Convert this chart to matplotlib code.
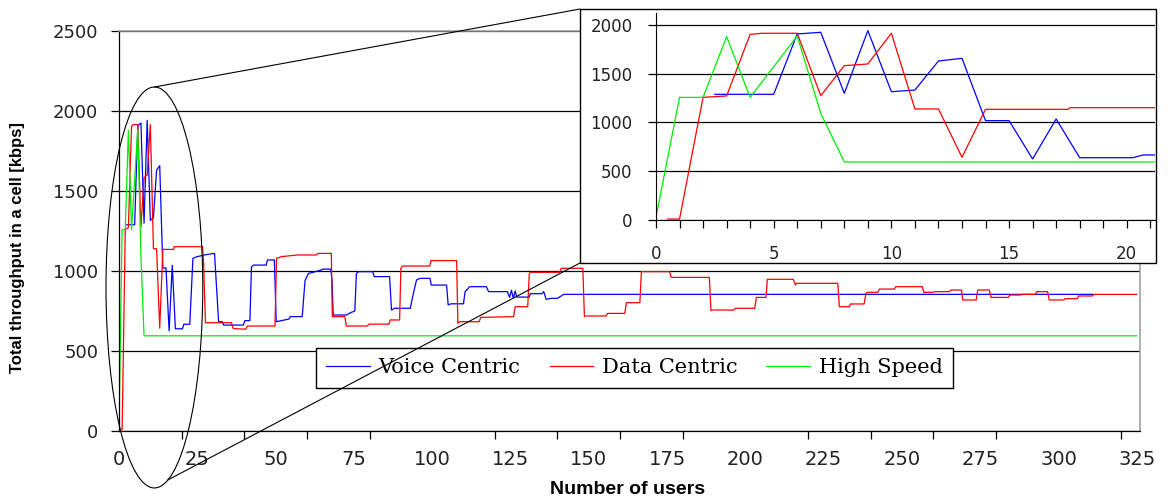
import matplotlib
matplotlib.use('Agg')
import matplotlib.pyplot as plt
from matplotlib.patches import Ellipse, Rectangle, ConnectionPatch
from matplotlib import font_manager

W, H = 1168, 501

# values: number of users -> total cell throughput [kbps]
voice_users = [2.5, 5, 6, 7, 8, 9, 10, 11, 12, 13, 14, 15, 16, 17, 18, 20.25, 20.7,
               22.6, 23.6, 25, 28, 30.5, 31.8, 33, 33.4, 39.7, 40.2, 41.8, 42.3, 43,
               47, 47.4, 49.6, 50.2, 54.3, 54.7, 58.5, 59.4, 60.5, 62, 64.5, 65.2,
               67.6, 68.0, 68.4, 72.6, 74, 75.3, 75.8, 76.5, 81, 81.5, 86.4, 87, 88,
               93, 94, 95, 96.2, 99.3, 99.7, 104.6, 105.1, 106, 110, 110.5, 112,
               117.3, 118, 124, 124.7, 125.3, 125.9, 126.5, 127, 131, 131.3, 135,
               135.6, 136.4, 138, 140, 142, 310.8]
voice_kbps = [1289, 1289, 1908, 1925, 1299, 1942, 1316, 1333, 1631, 1658, 1019, 1019, 626,
              1036, 639, 639, 667, 667, 1079, 1090, 1103, 1110, 683, 683, 662, 662, 690,
              690, 1027, 1037, 1037, 1069, 1069, 683, 700, 715, 715, 940, 985, 992, 1006,
              1012, 1012, 944, 725, 725, 740, 750, 985, 996, 996, 965, 965, 756, 767, 767,
              860, 944, 954, 954, 912, 912, 788, 795, 795, 871, 902, 902, 871, 871, 835,
              880, 830, 875, 837, 837, 858, 858, 871, 823, 829, 829, 854, 854]

data_users = [0.5, 1, 2, 3, 4, 4.5, 6, 7, 8, 9,
              10, 11, 12, 13, 14, 17.5, 17.6, 26.7, 27.0, 27.6,
              35.9, 36.5, 40.5, 41, 49.8, 50.3, 52, 57, 63, 63.5,
              67.8, 68.1, 72.1, 72.6, 79.3, 79.8, 86.2, 86.6, 89.6, 90.0,
              90.5, 99.2, 99.6, 107.8, 108.2, 108.8, 115, 115.5, 126, 126.5,
              130.5, 131, 131.5, 140.7, 141.2, 148.1, 148.6, 149, 155.5, 156,
              161.5, 162, 166.3, 166.8, 175.8, 176.3, 188.5, 189, 189.5, 196.3,
              196.8, 203, 203.5, 206.6, 207, 215.3, 216, 216.3, 229.5, 230,
              233.2, 233.6, 237.9, 238.5, 239, 242.3, 242.8, 247.6, 248, 256.5,
              257, 257.5, 260, 260.5, 265.2, 265.6, 269, 269.4, 273.7, 274.2,
              277.9, 278.4, 284, 284.4, 287.9, 288.3, 292.6, 293, 296.5, 297,
              301.7, 302.1, 306, 306.4, 310.8, 311.2, 325]
data_kbps = [10, 10, 1258, 1272, 1904, 1915, 1915, 1275, 1583, 1600,
             1915, 1139, 1139, 643, 1135, 1135, 1152, 1152, 1058, 677,
             677, 640, 636, 656, 656, 1079, 1090, 1100, 1100, 1110,
             1110, 715, 715, 656, 656, 668, 668, 694, 694, 1017,
             1031, 1031, 1065, 1065, 673, 683, 683, 710, 715, 777,
             777, 985, 992, 992, 1017, 1017, 715, 719, 719, 735,
             735, 802, 802, 996, 996, 960, 960, 752, 756, 756,
             767, 767, 835, 835, 948, 948, 912, 923, 923, 777,
             777, 794, 794, 860, 867, 867, 887, 887, 902, 902,
             865, 867, 867, 871, 871, 881, 881, 819, 819, 881,
             881, 835, 835, 850, 850, 854, 854, 871, 871, 819,
             819, 827, 827, 844, 844, 854, 854]

speed_users = [0, 1, 2, 3, 4, 6, 7, 8, 325]
speed_kbps = [30, 1258, 1258, 1880, 1258, 1887, 1094, 595, 595]

labels = ['Voice Centric', 'Data Centric', 'High Speed']
colors = ['#0000ff', '#ff0000', '#00ee00']
y_ticks = [0, 500, 1000, 1500, 2000, 2500]
x_labels = list(range(0, 326, 25))
x_marks = list(range(0, 321, 20))
inset_yticks = [0, 500, 1000, 1500, 2000]
inset_xlabels = [0, 5, 10, 15, 20]
inset_xmarks = list(range(0, 22))

names = {f.name for f in font_manager.fontManager.ttflist}
narrow = 'Liberation Sans Narrow' if 'Liberation Sans Narrow' in names else 'DejaVu Sans'


def px(x0, y0, x1, y1):
    # pixel box (top-left origin) -> figure fraction rect
    return [x0 / W, 1 - y1 / H, (x1 - x0) / W, (y1 - y0) / H]


fig = plt.figure(figsize=(W / 100, H / 100), dpi=100)
series = [(voice_users, voice_kbps), (data_users, data_kbps), (speed_users, speed_kbps)]

# main chart
ax = fig.add_axes(px(119, 31, 1140, 431))
for (u, k), c, lab in zip(series, colors, labels):
    ax.plot(u, k, color=c, lw=0.9, label=lab)
ax.set_xlim(0, 326)
ax.set_ylim(0, 2500)
ax.set_yticks(y_ticks)
ax.yaxis.grid(True, color='black', lw=0.9)
ax.set_axisbelow(True)
ax.set_xticks(x_labels)
ax.set_xticks(x_marks, minor=True)
ax.tick_params(axis='x', which='major', length=0, pad=14, labelsize=14, labelcolor='#222222')
ax.tick_params(axis='x', which='minor', length=6, width=0.9, color='black')
ax.tick_params(axis='y', length=6, width=0.9, labelsize=13, pad=9, labelcolor='#222222')
for t in ax.get_xticklabels():
    t.set_family(narrow)
for s in ['top', 'right']:
    ax.spines[s].set_color('#999999')
    ax.spines[s].set_linewidth(1.1)
for s in ['left', 'bottom']:
    ax.spines[s].set_linewidth(0.9)

leg = ax.legend(loc='upper left', bbox_to_anchor=(316 / W, 1 - 348 / H),
                bbox_transform=fig.transFigure, ncol=3, frameon=True, fancybox=False,
                edgecolor='black', framealpha=1, borderaxespad=0, borderpad=0.5,
                handlelength=2.1, handletextpad=0.4, columnspacing=1.4,
                prop={'family': 'DejaVu Serif', 'size': 15})
leg.get_frame().set_linewidth(1.0)

fig.text(18 / W, 1 - 248 / H, 'Total throughput in a cell [kbps]', rotation=90,
         ha='center', va='center', fontweight='bold', family='Liberation Sans', size=12)
fig.text(628 / W, 1 - 490 / H, 'Number of users', ha='center', va='center',
         fontweight='bold', family='Liberation Sans', size=14)

# zoom ellipse around the first users
ax.add_patch(Ellipse((11.3, 897), 30.9, 2506, fill=False, ec='black', lw=0.8,
                     clip_on=False, zorder=6))

# inset frame
fig.add_artist(Rectangle((580 / W, 1 - 263 / H), 576 / W, 254 / H, transform=fig.transFigure,
                         fc='white', ec='black', lw=1.0, zorder=1))
for xy_a, xy_b in [((11.3, 2150), (580 / W, 1 - 9 / H)), ((15.6, -306), (580 / W, 1 - 263 / H))]:
    fig.add_artist(ConnectionPatch(xyA=xy_a, coordsA=ax.transData, xyB=xy_b,
                                   coordsB=fig.transFigure, color='black', lw=0.8,
                                   shrinkA=0, shrinkB=0, zorder=3))

ins = fig.add_axes(px(656, 13, 1155, 220), zorder=2)
ins.set_facecolor('none')
for (u, k), c in zip(series, colors):
    ins.plot(u, k, color=c, lw=0.9)
ins.set_xlim(0, 21.2)
ins.set_ylim(0, 2123)
ins.set_yticks(inset_yticks)
ins.yaxis.grid(True, color='black', lw=0.9)
ins.set_axisbelow(True)
ins.set_xticks(inset_xlabels)
ins.set_xticks(inset_xmarks, minor=True)
ins.tick_params(axis='x', which='both', length=6, width=0.9, pad=12, labelsize=12,
                labelcolor='#222222')
ins.tick_params(axis='y', length=6, width=0.9, pad=11, labelsize=12, labelcolor='#222222')
ins.spines['top'].set_visible(False)
ins.spines['right'].set_visible(False)

fig.savefig('out.png', dpi=100)
